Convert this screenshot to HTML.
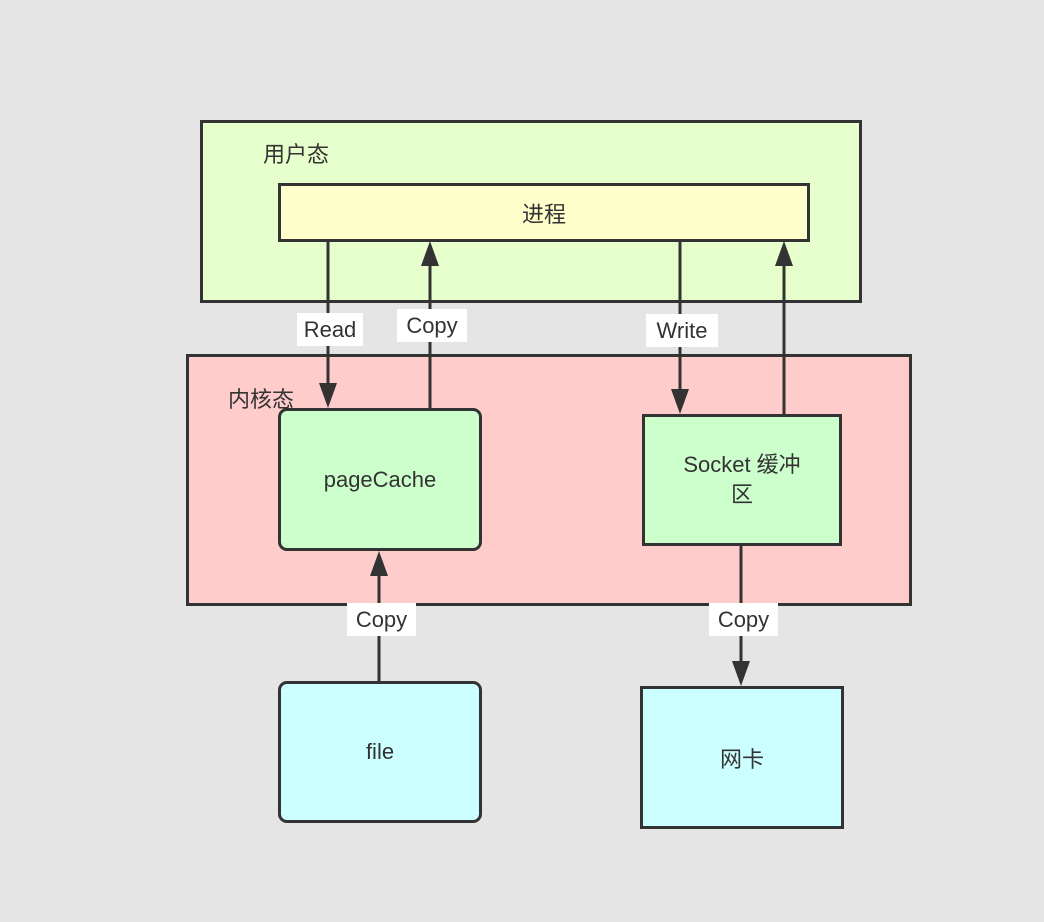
<!DOCTYPE html>
<html><head><meta charset="utf-8"><style>
body{margin:0;width:1044px;height:922px;background:#e5e5e5;position:relative;overflow:hidden;font-family:"Liberation Sans","Noto Sans CJK SC",sans-serif;color:#333}
.b{position:absolute;box-sizing:border-box;border:3px solid #333;display:flex;align-items:center;justify-content:center;text-align:center;font-size:22px}
.t{position:absolute;font-size:22px}
.l{position:absolute;background:#fff;font-size:22px;text-align:center;line-height:33px}
svg{position:absolute;left:0;top:0}
</style></head><body>
<div class="b" style="left:200px;top:120px;width:662px;height:183px;background:#e6ffcc"></div>
<div class="t" style="left:263px;top:137px">用户态</div>
<div class="b" style="left:278px;top:183px;width:532px;height:59px;background:#ffffcc">进程</div>
<div class="b" style="left:186px;top:354px;width:726px;height:252px;background:#ffcccc"></div>
<div class="t" style="left:228px;top:382px">内核态</div>
<div class="b" style="left:278px;top:408px;width:204px;height:143px;background:#ccffcc;border-radius:9px">pageCache</div>
<div class="b" style="left:642px;top:414px;width:200px;height:132px;background:#ccffcc;line-height:30px">Socket 缓冲<br>区</div>
<div class="b" style="left:278px;top:681px;width:204px;height:142px;background:#ccffff;border-radius:9px">file</div>
<div class="b" style="left:640px;top:686px;width:204px;height:143px;background:#ccffff">网卡</div>
<svg width="1044" height="922" fill="#333" stroke="#333" stroke-width="3">
<line x1="328" y1="241" x2="328" y2="385"/><polygon stroke="none" points="319,383 337,383 328,408"/>
<line x1="430" y1="408" x2="430" y2="262"/><polygon stroke="none" points="421,266 439,266 430,241"/>
<line x1="680" y1="241" x2="680" y2="390"/><polygon stroke="none" points="671,389 689,389 680,414"/>
<line x1="784" y1="414" x2="784" y2="262"/><polygon stroke="none" points="775,266 793,266 784,241"/>
<line x1="379" y1="681" x2="379" y2="572"/><polygon stroke="none" points="370,576 388,576 379,551"/>
<line x1="741" y1="545" x2="741" y2="664"/><polygon stroke="none" points="732,661 750,661 741,686"/>
</svg>
<div class="l" style="left:297px;top:313px;width:66px">Read</div>
<div class="l" style="left:397px;top:309px;width:70px">Copy</div>
<div class="l" style="left:646px;top:314px;width:72px">Write</div>
<div class="l" style="left:347px;top:603px;width:69px">Copy</div>
<div class="l" style="left:709px;top:603px;width:69px">Copy</div>
</body></html>
